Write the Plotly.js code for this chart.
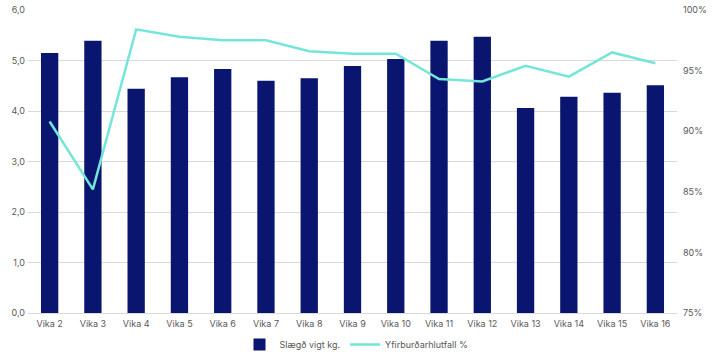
<!DOCTYPE html>
<html>
<head>
<meta charset="utf-8">
<script src="https://cdn.plot.ly/plotly-3.0.1.min.js"></script>
<style>html,body{margin:0;padding:0;background:#fff;}#chart{width:713px;height:357px;}</style>
</head>
<body>
<div id="chart"></div>
<script>
const categories = ["Vika 2","Vika 3","Vika 4","Vika 5","Vika 6","Vika 7","Vika 8","Vika 9","Vika 10","Vika 11","Vika 12","Vika 13","Vika 14","Vika 15","Vika 16"];
const weightKg = [5.15,5.39,4.44,4.67,4.83,4.60,4.65,4.89,5.03,5.39,5.47,4.06,4.28,4.36,4.51];
const ratioPct = [90.8,85.2,98.4,97.8,97.5,97.5,96.6,96.4,96.4,94.3,94.1,95.4,94.5,96.5,95.6];
const leftTicks = [0,1,2,3,4,5,6];
const rightTicks = [75,80,85,90,95,100];
const rightTickLabels = ["75%","80%","85%","90%","95%","100%"];

const font = {family: "Inter, 'Noto Sans', sans-serif", size: 9, color: "#595959"};

Plotly.newPlot("chart", [
  {type: "bar", name: "Slægð vigt kg.", x: categories, y: weightKg, marker: {color: "#0a1570"}},
  {type: "scatter", mode: "lines", name: "Yfirburðarhlutfall %", x: categories, y: ratioPct, yaxis: "y2",
   line: {color: "#74e6d9", width: 2.5}}
], {
  width: 713, height: 357,
  margin: {l: 28, r: 36, t: 10, b: 44},
  separators: ",.",
  paper_bgcolor: "#fff", plot_bgcolor: "#fff",
  font: font,
  bargap: 0.6,
  showlegend: true,
  legend: {orientation: "h", x: 0.5, xanchor: "center", xref: "container", y: 0.035, yanchor: "middle", yref: "container", font: font},
  xaxis: {type: "category", showgrid: false, showline: true, linecolor: "#d9d9d9", ticks: "", tickfont: font, automargin: false, ticklabelstandoff: 2},
  yaxis: {range: [0, 6], tickvals: leftTicks, tickformat: ".1f", showgrid: true, gridcolor: "#d9d9d9", zeroline: false,
          tickfont: font, ticks: "", automargin: false, ticklabelstandoff: 2},
  yaxis2: {overlaying: "y", side: "right", range: [75, 100], tickmode: "array", tickvals: rightTicks, ticktext: rightTickLabels, showgrid: false,
           zeroline: false, tickfont: font, ticks: "", automargin: false, ticklabelstandoff: 5}
}, {displayModeBar: false, staticPlot: true});
</script>
</body>
</html>
